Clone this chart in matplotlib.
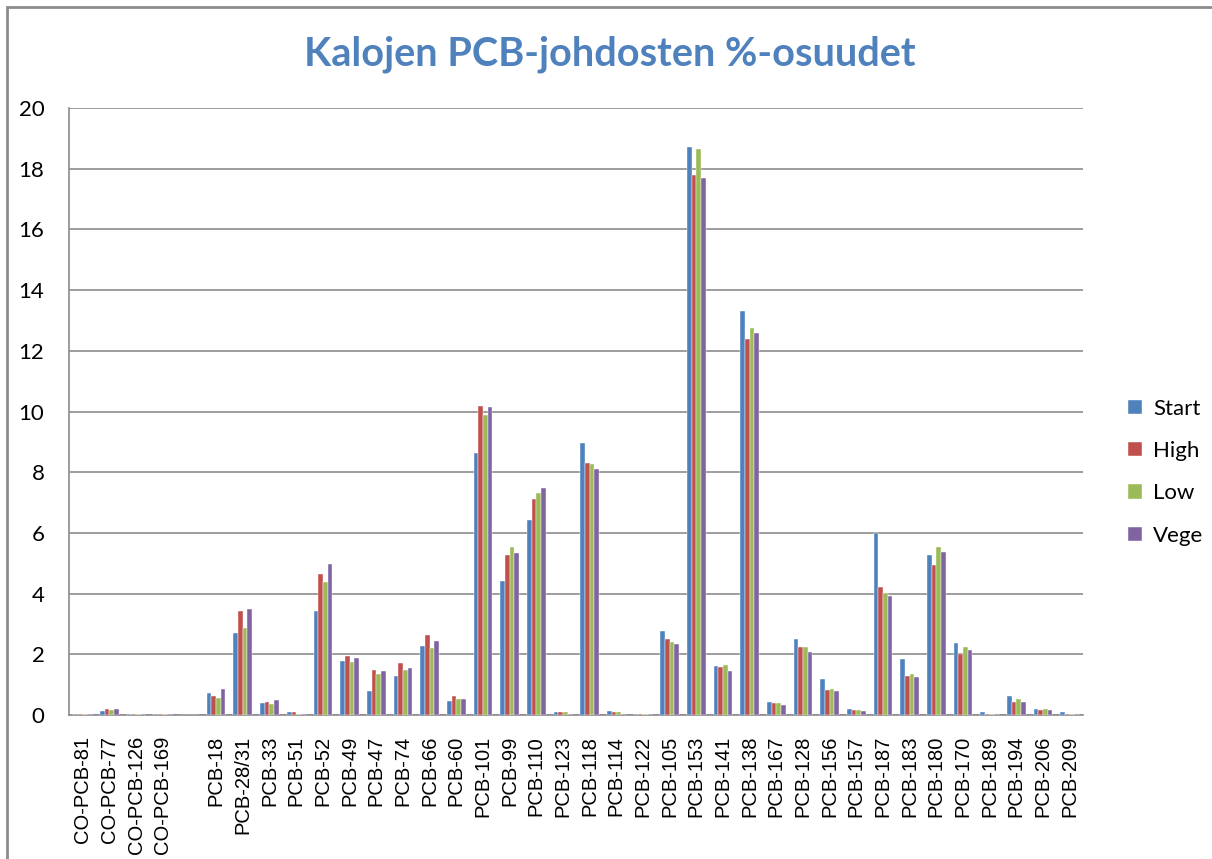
import matplotlib
matplotlib.use("Agg")
import matplotlib.pyplot as plt
import numpy as np
from matplotlib.patches import Rectangle

# categories (empty slot between the CO-PCB group and the rest)
categories = ["CO-PCB-81", "CO-PCB-77", "CO-PCB-126", "CO-PCB-169", "",
              "PCB-18", "PCB-28/31", "PCB-33", "PCB-51", "PCB-52", "PCB-49",
              "PCB-47", "PCB-74", "PCB-66", "PCB-60", "PCB-101", "PCB-99",
              "PCB-110", "PCB-123", "PCB-118", "PCB-114", "PCB-122", "PCB-105",
              "PCB-153", "PCB-141", "PCB-138", "PCB-167", "PCB-128", "PCB-156",
              "PCB-157", "PCB-187", "PCB-183", "PCB-180", "PCB-170", "PCB-189",
              "PCB-194", "PCB-206", "PCB-209"]

start = [0.05, 0.12, 0.05, 0.05, 0,
         0.71, 2.69, 0.40, 0.09, 3.43, 1.78, 0.78, 1.28, 2.27, 0.47,
         8.64, 4.42, 6.42, 0.10, 8.95, 0.13, 0.05, 2.77, 18.70, 1.60,
         13.32, 0.44, 2.51, 1.20, 0.21, 6.00, 1.86, 5.28, 2.36, 0.09,
         0.63, 0.21, 0.09]
high = [0.05, 0.20, 0.05, 0.05, 0,
        0.63, 3.43, 0.44, 0.09, 4.66, 1.93, 1.48, 1.70, 2.63, 0.63,
        10.18, 5.26, 7.12, 0.10, 8.29, 0.10, 0.05, 2.49, 17.80, 1.57,
        12.40, 0.40, 2.25, 0.82, 0.17, 4.21, 1.29, 4.94, 2.01, 0.05,
        0.44, 0.17, 0.05]
low = [0.05, 0.16, 0.05, 0.05, 0,
       0.56, 2.86, 0.36, 0.05, 4.38, 1.75, 1.36, 1.47, 2.21, 0.52,
       9.87, 5.54, 7.30, 0.10, 8.26, 0.10, 0.05, 2.41, 18.65, 1.64,
       12.74, 0.40, 2.25, 0.85, 0.17, 4.01, 1.36, 5.55, 2.25, 0.05,
       0.52, 0.21, 0.05]
vege = [0.05, 0.20, 0.05, 0.05, 0,
        0.86, 3.50, 0.48, 0.05, 4.97, 1.89, 1.44, 1.55, 2.43, 0.52,
        10.14, 5.35, 7.49, 0.05, 8.10, 0.05, 0.05, 2.34, 17.70, 1.46,
        12.59, 0.32, 2.09, 0.78, 0.12, 3.93, 1.25, 5.37, 2.14, 0.05,
        0.44, 0.17, 0.05]

series = [("Start", start, "#4F81BD"),
          ("High", high, "#C0504D"),
          ("Low", low, "#9BBB59"),
          ("Vege", vege, "#8064A2")]

fig = plt.figure(figsize=(12.12, 8.59), dpi=100)
ax = fig.add_axes([0.0573, 0.1676, 0.8363, 0.7067])

x = np.arange(len(categories))
w = 0.175
for i, (name, vals, col) in enumerate(series):
    ax.bar(x + (i - 1.5) * w, vals, width=w, color=col, label=name,
           edgecolor="white", linewidth=0.3, zorder=3)

ax.set_xlim(-0.5, len(categories) - 0.5)
ax.set_ylim(0, 20)
ax.set_yticks(np.arange(0, 21, 2))
ax.yaxis.grid(True, color="#8c8c8c", linewidth=1.2, zorder=0)
ax.set_axisbelow(True)
for s in ["top", "right"]:
    ax.spines[s].set_visible(False)
for s in ["left", "bottom"]:
    ax.spines[s].set_color("#8c8c8c")
    ax.spines[s].set_linewidth(1.2)

ax.set_xticks(x)
ax.set_xticklabels(categories, rotation=90, family="Liberation Sans",
                   fontsize=14.5)
ax.tick_params(axis="x", length=0, pad=15)
ax.tick_params(axis="y", length=0, pad=18, labelsize=16)
for lab in ax.get_yticklabels():
    lab.set_family("Lato")

fig.text(0.503, 0.937, "Kalojen PCB-johdosten %-osuudet", ha="center",
         va="center", fontsize=28.5, fontweight="bold", color="#4F81BD",
         family="Lato")

leg = ax.legend(loc="center left", bbox_to_anchor=(1.025, 0.40), frameon=False,
                prop={"family": "Lato", "size": 16}, labelspacing=1.0,
                handlelength=0.6, handleheight=0.6, handletextpad=0.5)

# chart border
fig.patches.append(Rectangle((7 / 1212, -0.1), 1.2, 1 - 7 / 859 + 0.1,
                             transform=fig.transFigure, fill=False,
                             edgecolor="#8c8c8c", linewidth=2))

fig.savefig("out.png", dpi=100)
